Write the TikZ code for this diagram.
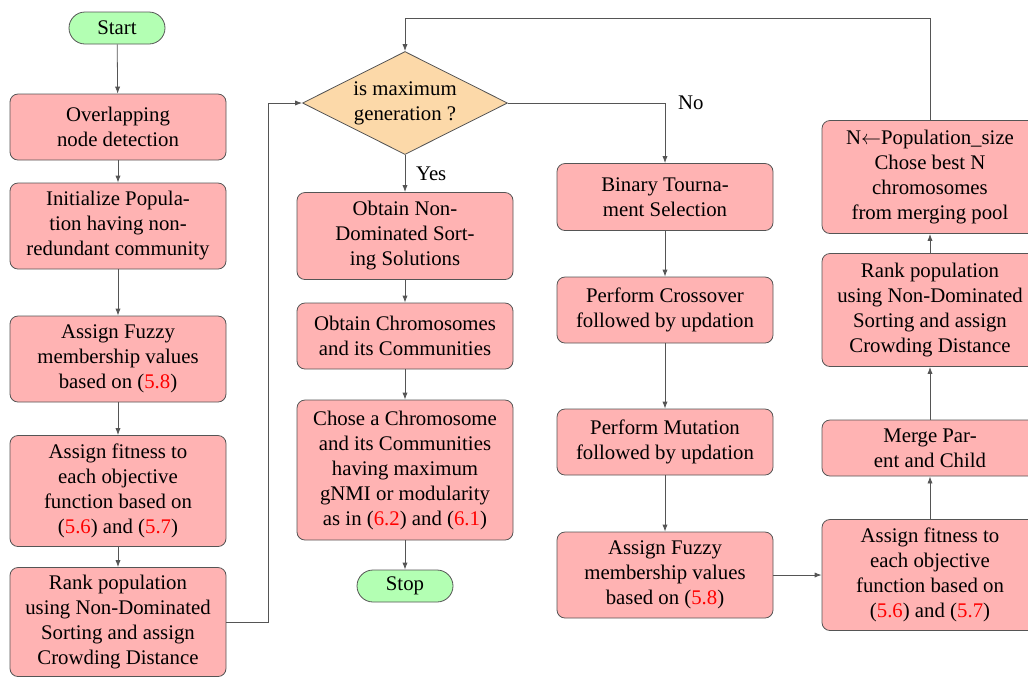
\documentclass[tikz,border=0pt]{standalone}
\usepackage{fontspec}
\setmainfont{LiberationSerif}[Extension=.ttf,UprightFont=*-Regular,BoldFont=*-Bold,ItalicFont=*-Italic,BoldItalicFont=*-BoldItalic]
\usetikzlibrary{shapes.geometric,shapes.misc,arrows.meta}
\definecolor{boxfill}{RGB}{255,179,179}
\definecolor{termfill}{RGB}{179,255,179}
\definecolor{decfill}{RGB}{252,217,169}
\definecolor{edgegray}{RGB}{85,85,85}
\newcommand{\eqref}[1]{(\textcolor{red}{#1})}
\tikzset{
  stepbox/.style={draw=edgegray, fill=boxfill, rounded corners=4pt, align=center,
    minimum width=108pt, inner sep=2pt, font=\fontsize{10.4}{12.5}\selectfont},
  termbox/.style={draw=edgegray, fill=termfill, rounded rectangle, align=center,
    minimum width=50pt, minimum height=16pt, inner sep=1pt, font=\fontsize{10.4}{12.5}\selectfont},
  decbox/.style={draw=edgegray, fill=decfill, diamond, aspect=2, align=center,
    minimum width=102.5pt, minimum height=51.5pt, inner sep=0pt, font=\fontsize{10.4}{12.5}\selectfont},
  arr/.style={draw=edgegray, -{Latex[length=3.5pt,width=2.6pt]}},
  lbl/.style={font=\fontsize{10.4}{12.5}\selectfont}
}
\begin{document}
\begin{tikzpicture}[x=0.5pt,y=-0.5pt]
\useasboundingbox (0,0) rectangle (1028,677);

% left column
\node[termbox] (start) at (117,28) {Start};
\node[stepbox, minimum height=33pt] (ov) at (118,127) {Overlapping\\node detection};
\node[stepbox, minimum height=43pt] (init) at (118,226) {Initialize Popula-\\tion having non-\\redundant community};
\node[stepbox, minimum height=43pt] (fuzA) at (118,359) {Assign Fuzzy\\membership values\\based on \eqref{5.8}};
\node[stepbox, minimum height=55.5pt] (fitA) at (118,491) {Assign fitness to\\each objective\\function based on\\\eqref{5.6} and \eqref{5.7}};
\node[stepbox, minimum height=54.5pt] (rankA) at (118,622) {Rank population\\using Non-Dominated\\Sorting and assign\\Crowding Distance};

% decision and the "Yes" branch
\node[decbox] (dec) at (405,103) {is maximum\\generation ?};
\node[stepbox, minimum height=43.5pt] (ond) at (405,236) {Obtain Non-\\Dominated Sort-\\ing Solutions};
\node[stepbox, minimum height=33pt] (och) at (405,336) {Obtain Chromosomes\\and its Communities};
\node[stepbox, minimum height=70pt] (cho) at (405,470) {Chose a Chromosome\\and its Communities\\having maximum\\gNMI or modularity\\as in \eqref{6.2} and \eqref{6.1}};
\node[termbox] (stop) at (405,586) {Stop};

% "No" branch
\node[stepbox, minimum height=33.5pt] (bts) at (665,197) {Binary Tourna-\\ment Selection};
\node[stepbox, minimum height=33pt] (cross) at (665,310) {Perform Crossover\\followed by updation};
\node[stepbox, minimum height=33pt] (mut) at (665,442) {Perform Mutation\\followed by updation};
\node[stepbox, minimum height=43pt] (fuzB) at (665,575) {Assign Fuzzy\\membership values\\based on \eqref{5.8}};

% right column
\node[stepbox, minimum height=55.5pt] (fitB) at (930,575) {Assign fitness to\\each objective\\function based on\\\eqref{5.6} and \eqref{5.7}};
\node[stepbox, minimum height=28pt] (merge) at (930,448) {Merge Par-\\ent and Child};
\node[stepbox, minimum height=56.5pt] (rankB) at (930,310) {Rank population\\using Non-Dominated\\Sorting and assign\\Crowding Distance};
\node[stepbox, minimum height=56.5pt] (nsel) at (930,177) {N$\leftarrow$Population\_size\\Chose best N\\chromosomes\\from merging pool};

% connectors
\draw[arr] (start) -- (ov);
\draw[arr] (ov) -- (init);
\draw[arr] (init) -- (fuzA);
\draw[arr] (fuzA) -- (fitA);
\draw[arr] (fitA) -- (rankA);
\draw[arr] (rankA.east) -- ++(42,0) |- (dec.west);

\draw[arr] (dec.south) -- node[lbl, right, xshift=2pt] {Yes} (ond.north);
\draw[arr] (ond) -- (och);
\draw[arr] (och) -- (cho);
\draw[arr] (cho) -- (stop);

\draw[arr] (dec.east) -| coordinate[pos=0.5] (nocorner) (bts.north);
\node[lbl, right, xshift=3pt] (nolbl) at (nocorner) {No};
\draw[arr] (bts) -- (cross);
\draw[arr] (cross) -- (mut);
\draw[arr] (mut) -- (fuzB);
\draw[arr] (fuzB) -- (fitB);

\draw[arr] (fitB) -- (merge);
\draw[arr] (merge) -- (rankB);
\draw[arr] (rankB) -- (nsel);
\draw[arr] (nsel.north) -- ++(0,-102) -| (dec.north);
\end{tikzpicture}
\end{document}
